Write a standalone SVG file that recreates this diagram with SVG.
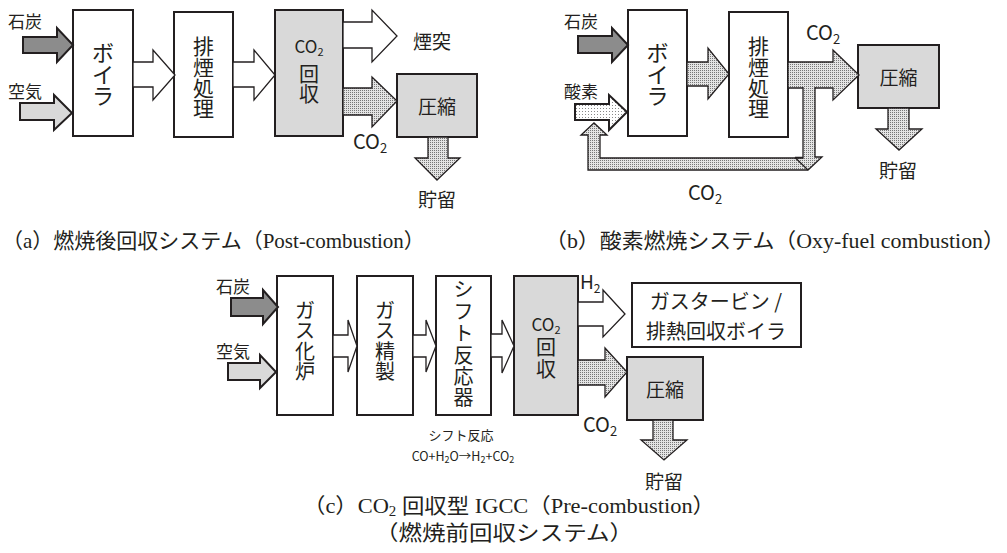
<svg xmlns="http://www.w3.org/2000/svg" width="1007" height="553" viewBox="0 0 1007 553">
<defs>
<pattern id="dots" width="2" height="2" patternUnits="userSpaceOnUse"><rect width="2" height="2" fill="#e4e4e4"/><rect width="1" height="1" fill="#777"/></pattern>
<pattern id="sparse" width="3" height="3" patternUnits="userSpaceOnUse"><rect width="3" height="3" fill="#fff"/><rect width="1" height="1" fill="#888"/></pattern>
</defs>
<style>
.box{fill:#fff;stroke:#231f20;stroke-width:2}
.gbox{fill:#d9d9d9;stroke:#231f20;stroke-width:2}
.coal{fill:#8c8c8c;stroke:#231f20;stroke-width:2;stroke-linejoin:miter}
.air{fill:#d9d9d9;stroke:#231f20;stroke-width:2}
.oxy{fill:url(#sparse);stroke:#231f20;stroke-width:2}
.wa{fill:#fff;stroke:#231f20;stroke-width:1.3}
.da{fill:url(#dots);stroke:#231f20;stroke-width:1.3}
.t{font-family:"Noto Sans CJK JP","Noto Sans",sans-serif;fill:#231f20}
.c{text-anchor:middle}
.cap{font-family:"Liberation Serif","Noto Sans CJK JP",serif;fill:#231f20}
</style>

<!-- Panel (a) -->
<g id="a-labels">
<text class="t" x="8" y="28" font-size="17">石炭</text>
<text class="t" x="8" y="98" font-size="17">空気</text>
<text class="t" x="413" y="49" font-size="19">煙突</text>
<text class="t" x="353" y="149" font-size="20">CO<tspan font-size="13" dy="4">2</tspan></text>
<text class="t c" x="437" y="207" font-size="19">貯留</text>
</g>
<g id="a-boiler">
<rect class="box" x="73" y="10" width="60" height="126"/>
<text class="t c" font-size="22"><tspan x="103" y="61">ボ</tspan><tspan x="103" y="83">イ</tspan><tspan x="103" y="104">ラ</tspan></text>
</g>
<g id="a-flue">
<rect class="box" x="174" y="12" width="59" height="125"/>
<text class="t c" font-size="21"><tspan x="203.5" y="54">排</tspan><tspan x="203.5" y="75">煙</tspan><tspan x="203.5" y="96">処</tspan><tspan x="203.5" y="116">理</tspan></text>
</g>
<g id="a-capture">
<rect class="gbox" x="275" y="10" width="68" height="126"/>
<text class="t c" x="309" y="53" font-size="17">CO<tspan font-size="11" dy="3">2</tspan></text>
<text class="t c" font-size="20"><tspan x="309" y="82">回</tspan><tspan x="309" y="102">収</tspan></text>
</g>
<g id="a-comp">
<rect class="gbox" x="397" y="74" width="80" height="63"/>
<text class="t c" x="437" y="114" font-size="19">圧縮</text>
</g>

<!-- Panel (b) -->
<g id="b-labels">
<text class="t" x="564" y="28" font-size="17">石炭</text>
<text class="t" x="564" y="98" font-size="17">酸素</text>
<text class="t" x="806" y="40" font-size="20">CO<tspan font-size="13" dy="4">2</tspan></text>
<text class="t" x="688" y="200" font-size="20">CO<tspan font-size="13" dy="4">2</tspan></text>
<text class="t c" x="898" y="178" font-size="19">貯留</text>
</g>
<g id="b-boiler">
<rect class="box" x="628" y="10" width="59" height="126"/>
<text class="t c" font-size="22"><tspan x="657.5" y="61">ボ</tspan><tspan x="657.5" y="83">イ</tspan><tspan x="657.5" y="104">ラ</tspan></text>
</g>
<g id="b-flue">
<rect class="box" x="729" y="12" width="59" height="125"/>
<text class="t c" font-size="21"><tspan x="758.5" y="54">排</tspan><tspan x="758.5" y="75">煙</tspan><tspan x="758.5" y="96">処</tspan><tspan x="758.5" y="116">理</tspan></text>
</g>
<g id="b-comp">
<rect class="gbox" x="858" y="45" width="81" height="63"/>
<text class="t c" x="898.5" y="85" font-size="19">圧縮</text>
</g>

<!-- Panel (c) -->
<g id="c-labels">
<text class="t" x="216" y="293" font-size="17">石炭</text>
<text class="t" x="216" y="358" font-size="17">空気</text>
<text class="t" x="580" y="289" font-size="19">H<tspan font-size="12" dy="4">2</tspan></text>
<text class="t" x="583" y="432" font-size="20">CO<tspan font-size="13" dy="4">2</tspan></text>
<text class="t c" x="664" y="489" font-size="19">貯留</text>
<text class="t c" x="461" y="440" font-size="13">シフト反応</text>
<text class="t c" x="463" y="461" font-size="12.5">CO+H<tspan font-size="9" dy="2">2</tspan><tspan dy="-2">O→H</tspan><tspan font-size="9" dy="2">2</tspan><tspan dy="-2">+CO</tspan><tspan font-size="9" dy="2">2</tspan></text>
</g>
<g id="c-gasifier">
<rect class="box" x="277" y="276" width="56" height="139"/>
<text class="t c" font-size="20"><tspan x="305" y="318">ガ</tspan><tspan x="305" y="338">ス</tspan><tspan x="305" y="359">化</tspan><tspan x="305" y="379">炉</tspan></text>
</g>
<g id="c-cleanup">
<rect class="box" x="357" y="276" width="56" height="139"/>
<text class="t c" font-size="20"><tspan x="385" y="318">ガ</tspan><tspan x="385" y="338">ス</tspan><tspan x="385" y="359">精</tspan><tspan x="385" y="379">製</tspan></text>
</g>
<g id="c-shift">
<rect class="box" x="436" y="276" width="55" height="139"/>
<text class="t c" font-size="20"><tspan x="463.5" y="297">シ</tspan><tspan x="463.5" y="319">フ</tspan><tspan x="463.5" y="341">ト</tspan><tspan x="463.5" y="363">反</tspan><tspan x="463.5" y="384">応</tspan><tspan x="463.5" y="405">器</tspan></text>
</g>
<g id="c-capture">
<rect class="gbox" x="514" y="276" width="64" height="139"/>
<text class="t c" x="546" y="331" font-size="17">CO<tspan font-size="11" dy="3">2</tspan></text>
<text class="t c" font-size="20"><tspan x="546" y="355">回</tspan><tspan x="546" y="377">収</tspan></text>
</g>
<g id="c-turbine">
<rect class="box" x="632" y="283" width="169" height="64"/>
<text class="t c" font-size="20"><tspan x="716" y="309">ガスタービン /</tspan><tspan x="716" y="339">排熱回収ボイラ</tspan></text>
</g>
<g id="c-comp">
<rect class="gbox" x="627" y="357" width="76" height="63"/>
<text class="t c" x="665" y="397" font-size="19">圧縮</text>
</g>

<!-- Connectors -->
<g id="connectors">
<polygon class="coal" points="23,37 57,37 57,28 73,45 57,62 57,53 23,53"/>
<polygon class="air" points="20,103 54,103 54,95 72,113 54,130 54,120 20,120"/>
<polygon class="wa" points="133,62 153,62 153,50 175,75 153,100 153,87 133,87"/>
<polygon class="wa" points="233,62 254,62 254,50 275,75 254,100 254,87 233,87"/>
<polygon class="wa" points="343,22 372,22 372,10 397,36 372,62 372,48 343,48"/>
<polygon class="da" points="343,88 372,88 372,77 397,101 372,127 372,115 343,115"/>
<polygon class="da" points="428,137 448,137 448,158 460,158 437,180 415,158 428,158"/>
<polygon class="coal" points="578,36 612,36 612,28 628,45 612,62 612,53 578,53"/>
<polygon class="oxy" points="575,104 609,104 609,95 627,112 609,130 609,120 575,120"/>
<polygon class="da" points="687,62 708,62 708,48 729,74 708,99 708,86 687,86"/>
<polygon class="da" points="788,62 833,62 833,50 859,75 833,100 833,88 788,88"/>
<path class="da" d="M803,87 L803,158 L600,158 L600,135 L607,135 L594,123 L581,135 L588,135 L588,170 L808,170 L822,157 L815,157 L815,87"/>
<path d="M795,157.5 L803,157.5 M795,157.5 L808,170" fill="none" stroke="#231f20" stroke-width="1.3"/>
<polygon class="da" points="888,108 909,108 909,129 922,129 899,150 876,129 888,129"/>
<polygon class="coal" points="231,298 263,298 263,290 278,307 263,324 263,316 231,316"/>
<polygon class="air" points="228,363 260,363 260,355 276,372 260,388 260,380 228,380"/>
<polygon class="wa" points="333,335 348,335 348,320 357,346 348,372 348,357 333,357"/>
<polygon class="wa" points="413,335 426,335 426,320 436,346 426,372 426,357 413,357"/>
<polygon class="wa" points="491,334 502,334 502,320 514,346 502,373 502,357 491,357"/>
<polygon class="wa" points="578,302 603,302 603,290 625,314 603,337 603,326 578,326"/>
<polygon class="da" points="578,360 605,360 605,348 627,372 605,397 605,385 578,385"/>
<polygon class="da" points="653,420 673,420 673,440 687,440 664,460 641,440 653,440"/>
</g>

<!-- Captions -->
<g id="captions">
<text class="cap" x="2" y="248" font-size="21">（a）燃焼後回収システム（Post-combustion）</text>
<text class="cap" x="545" y="248" font-size="21" textLength="460" lengthAdjust="spacingAndGlyphs">（b）酸素燃焼システム（Oxy-fuel combustion）</text>
<text class="cap" x="303" y="513" font-size="21" textLength="412" lengthAdjust="spacingAndGlyphs">（c）CO<tspan font-size="14" dy="3">2</tspan><tspan dy="-3"> 回収型 IGCC（Pre-combustion）</tspan></text>
<text class="cap" x="375" y="540" font-size="21" textLength="258" lengthAdjust="spacingAndGlyphs">（燃焼前回収システム）</text>
</g>
</svg>
